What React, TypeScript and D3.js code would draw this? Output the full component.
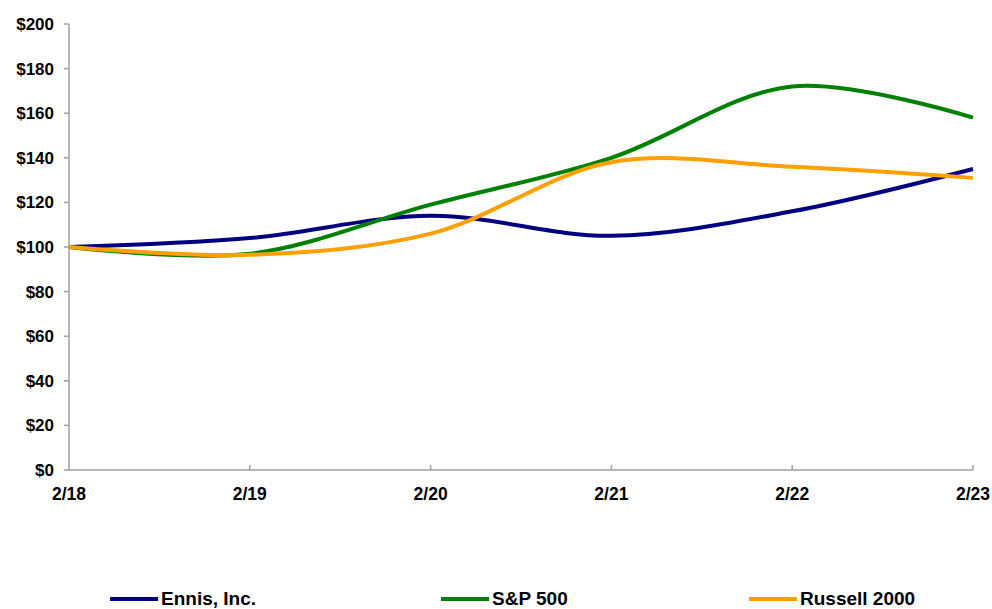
import { useEffect, useRef } from 'react';
import * as d3 from 'd3';

const periods = ['2/18', '2/19', '2/20', '2/21', '2/22', '2/23'];
const ennis = [100, 104, 114, 105, 116, 135];
const sp500 = [100, 97, 119, 140, 172, 158];
const russell = [100, 96.5, 106, 138, 136, 131];
const yTicks = [0, 20, 40, 60, 80, 100, 120, 140, 160, 180, 200];

const series = [
  { name: 'Ennis, Inc.', values: ennis, color: '#000080', legendX: 110 },
  { name: 'S&P 500', values: sp500, color: '#008000', legendX: 441 },
  { name: 'Russell 2000', values: russell, color: '#FFA000', legendX: 749 },
];

const App = () => {
  const svgRef = useRef<SVGSVGElement>(null);

  useEffect(() => {
    const svg = d3.select(svgRef.current);
    svg.selectAll('*').remove();

    const left = 69;
    const right = 973;
    const top = 24;
    const bottom = 470;
    const font = '"Liberation Sans", Arial, sans-serif';

    const x = d3.scalePoint<string>().domain(periods).range([left, right]);
    const y = d3.scaleLinear().domain([0, 200]).range([bottom, top]);

    // axes
    const axisColor = '#a0a0a0';
    svg.append('line')
      .attr('x1', left).attr('x2', left).attr('y1', top).attr('y2', bottom)
      .attr('stroke', axisColor).attr('stroke-width', 1.5);
    svg.append('line')
      .attr('x1', left).attr('x2', right).attr('y1', bottom).attr('y2', bottom)
      .attr('stroke', axisColor).attr('stroke-width', 1.5);

    svg.append('g').selectAll('line').data(yTicks).enter().append('line')
      .attr('x1', left - 5).attr('x2', left)
      .attr('y1', (d) => y(d)).attr('y2', (d) => y(d))
      .attr('stroke', axisColor).attr('stroke-width', 1.5);

    svg.append('g').selectAll('text').data(yTicks).enter().append('text')
      .attr('x', 54).attr('y', (d) => y(d) + 6)
      .attr('text-anchor', 'end')
      .style('font-family', font).style('font-weight', 'bold').style('font-size', '17px')
      .text((d) => `$${d}`);

    svg.append('g').selectAll('line').data(periods.slice(1)).enter().append('line')
      .attr('x1', (d) => x(d)!).attr('x2', (d) => x(d)!)
      .attr('y1', bottom - 5).attr('y2', bottom)
      .attr('stroke', axisColor).attr('stroke-width', 1.5);

    svg.append('g').selectAll('text').data(periods).enter().append('text')
      .attr('x', (d) => x(d)!).attr('y', 500)
      .attr('text-anchor', 'middle')
      .style('font-family', font).style('font-weight', 'bold').style('font-size', '17.5px')
      .text((d) => d);

    const line = d3.line<number>()
      .x((_, i) => x(periods[i])!)
      .y((d) => y(d))
      .curve(d3.curveCatmullRom.alpha(0.5));

    series.forEach((s) => {
      svg.append('path')
        .attr('d', line(s.values))
        .attr('fill', 'none')
        .attr('stroke', s.color)
        .attr('stroke-width', 4);
    });

    // legend
    const legend = svg.append('g');
    series.forEach((s) => {
      legend.append('line')
        .attr('x1', s.legendX).attr('x2', s.legendX + 48)
        .attr('y1', 599).attr('y2', 599)
        .attr('stroke', s.color).attr('stroke-width', 4);
      legend.append('text')
        .attr('x', s.legendX + 51).attr('y', 605)
        .style('font-family', font).style('font-weight', 'bold').style('font-size', '19px')
        .text(s.name);
    });
  }, []);

  return (
    <svg ref={svgRef} width={992} height={609}
      style={{ position: 'absolute', left: 0, top: 0, background: '#fff' }} />
  );
};

export default App;
